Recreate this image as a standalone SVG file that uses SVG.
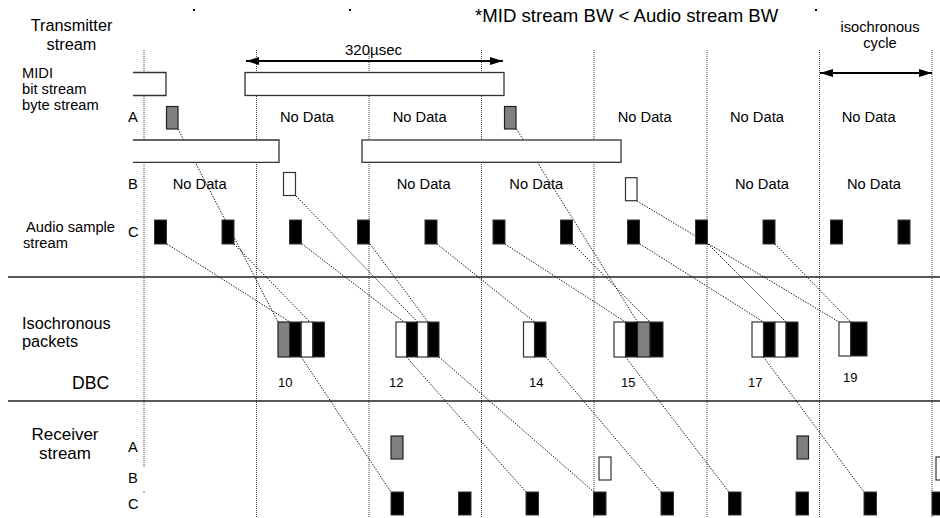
<svg xmlns="http://www.w3.org/2000/svg" width="940" height="518" viewBox="0 0 940 518">
<defs>
<style>
text{font-family:"Liberation Sans",Arial,sans-serif;fill:#000}
.t{font-size:14.7px}
.big{font-size:16.3px}
.grid{stroke:#444;stroke-width:1;stroke-dasharray:1,1;fill:none}
.con{stroke:#111;stroke-width:1;stroke-dasharray:1.4,1.4;fill:none}
.frame{fill:#fff;stroke:#333;stroke-width:1.3}
.g{fill:#808080;stroke:#222;stroke-width:1.2}
.w{fill:#fff;stroke:#333;stroke-width:1.2}
.k{fill:#000;stroke:#333;stroke-width:1}
.sep{stroke:#222;stroke-width:1.3}
.arr{stroke:#000;stroke-width:1.8;fill:none}
</style>
<marker id="ah" viewBox="0 0 13 8" refX="13" refY="4" markerWidth="13" markerHeight="8" markerUnits="userSpaceOnUse" orient="auto-start-reverse">
<path d="M0,0 L13,4 L0,8 z" fill="#000"/>
</marker>
</defs>
<rect width="940" height="518" fill="#fff"/>

<g id="grid">
<line class="grid" x1="144" y1="50" x2="144" y2="467"/>
<rect x="143.5" y="491" width="1" height="1.5" fill="#444"/>
<line class="grid" x1="256.5" y1="50" x2="256.5" y2="518"/>
<line class="grid" x1="369" y1="50" x2="369" y2="518"/>
<line class="grid" x1="481.5" y1="50" x2="481.5" y2="518"/>
<line class="grid" x1="594" y1="50" x2="594" y2="518"/>
<line class="grid" x1="707" y1="50" x2="707" y2="518"/>
<line class="grid" x1="819.5" y1="50" x2="819.5" y2="518"/>
<line class="grid" x1="932" y1="50" x2="932" y2="518"/>
<rect x="193" y="9" width="2" height="2" fill="#000"/>
<rect x="349" y="9" width="2" height="2" fill="#000"/>
<rect x="815" y="9" width="2" height="2" fill="#000"/>
</g>

<g id="separators">
<line class="sep" x1="8" y1="277" x2="940" y2="277"/>
<line class="sep" x1="8" y1="401" x2="940" y2="401"/>
</g>

<g id="labels">
<text class="big" x="71.5" y="31" text-anchor="middle">Transmitter</text>
<text class="big" x="71.5" y="50" text-anchor="middle">stream</text>
<text class="t" x="22" y="78">MIDI</text>
<text class="t" x="22" y="94">bit stream</text>
<text class="t" x="22" y="110">byte stream</text>
<text class="t" x="128" y="122">A</text>
<text class="t" x="128" y="189">B</text>
<text class="t" x="128" y="237">C</text>
<text class="t" x="26" y="232">Audio sample</text>
<text class="t" x="23" y="248">stream</text>
<text x="22" y="329" style="font-size:16.3px">Isochronous</text>
<text x="22" y="346.5" style="font-size:16.3px">packets</text>
<text x="72" y="389" style="font-size:17.6px">DBC</text>
<text x="65" y="440" text-anchor="middle" style="font-size:17px">Receiver</text>
<text x="65" y="458.5" text-anchor="middle" style="font-size:17px">stream</text>
<text class="t" x="128" y="452">A</text>
<text class="t" x="128" y="483">B</text>
<text class="t" x="128" y="509">C</text>
<text x="475" y="22" style="font-size:18.6px">*MID stream BW &lt; Audio stream BW</text>
<text class="t" x="880" y="32" text-anchor="middle">isochronous</text>
<text class="t" x="880" y="48" text-anchor="middle">cycle</text>
<text x="345" y="55" style="font-size:15px">320µsec</text>
</g>

<g id="nodata">
<text class="t" x="280" y="122">No Data</text>
<text class="t" x="392.7" y="122">No Data</text>
<text class="t" x="617.7" y="122">No Data</text>
<text class="t" x="730" y="122">No Data</text>
<text class="t" x="841.7" y="122">No Data</text>
<text class="t" x="172.7" y="189">No Data</text>
<text class="t" x="396.7" y="189">No Data</text>
<text class="t" x="509.3" y="189">No Data</text>
<text class="t" x="735" y="189">No Data</text>
<text class="t" x="847" y="189">No Data</text>
</g>

<g id="dimensions">
<line class="arr" x1="246" y1="61" x2="503" y2="61" marker-start="url(#ah)" marker-end="url(#ah)"/>
<line class="arr" x1="820" y1="73" x2="932" y2="73" marker-start="url(#ah)" marker-end="url(#ah)"/>
</g>

<g id="connectors">
<line class="con" x1="178" y1="129" x2="278" y2="322"/>
<line class="con" x1="167" y1="244" x2="290" y2="322"/>
<line class="con" x1="234" y1="244" x2="310" y2="322"/>
<line class="con" x1="296" y1="196" x2="417.5" y2="322"/>
<line class="con" x1="302" y1="244" x2="404" y2="322"/>
<line class="con" x1="370" y1="244" x2="428" y2="322"/>
<line class="con" x1="437" y1="244" x2="534.5" y2="322"/>
<line class="con" x1="505" y1="244" x2="625.5" y2="322"/>
<line class="con" x1="516.5" y1="129" x2="637.5" y2="322"/>
<line class="con" x1="573" y1="244" x2="650" y2="322"/>
<line class="con" x1="640" y1="244" x2="763.5" y2="322"/>
<line class="con" x1="637" y1="201" x2="839" y2="322"/>
<line class="con" x1="708" y1="244" x2="786" y2="322"/>
<line class="con" x1="775" y1="244" x2="850.7" y2="322"/>
<line class="con" x1="301.2" y1="357" x2="391" y2="492"/>
<line class="con" x1="406.5" y1="357" x2="526" y2="492"/>
<line class="con" x1="439" y1="357" x2="594" y2="492"/>
<line class="con" x1="546" y1="357" x2="661" y2="492"/>
<line class="con" x1="625.5" y1="357" x2="729" y2="492"/>
<line class="con" x1="763.5" y1="357" x2="864" y2="492"/>
</g>

<g id="midi-bit-stream">
<path class="frame" d="M133,72.5 H166 V95.5 H133"/>
<rect class="frame" x="245" y="72.5" width="259" height="23"/>
<path class="frame" d="M133,140 H279 V162.3 H133"/>
<rect class="frame" x="362" y="140" width="259" height="22.3"/>
</g>

<g id="tx-A">
<rect class="g" x="166.5" y="106.5" width="11.5" height="22.5"/>
<rect class="g" x="504.5" y="106.5" width="11.5" height="22.5"/>
</g>
<g id="tx-B">
<rect class="w" x="283.5" y="172.5" width="12" height="23"/>
<rect class="w" x="625.5" y="177.7" width="11.5" height="23"/>
</g>
<g id="tx-C">
<rect class="k" x="154.5" y="220" width="12" height="24"/>
<rect class="k" x="222" y="220" width="12" height="24"/>
<rect class="k" x="289.5" y="220" width="12" height="24"/>
<rect class="k" x="357.5" y="220" width="12" height="24"/>
<rect class="k" x="425" y="220" width="12" height="24"/>
<rect class="k" x="493" y="220" width="12" height="24"/>
<rect class="k" x="560.5" y="220" width="12" height="24"/>
<rect class="k" x="627.5" y="220" width="12" height="24"/>
<rect class="k" x="695.5" y="220" width="12" height="24"/>
<rect class="k" x="763" y="220" width="12" height="24"/>
<rect class="k" x="830.5" y="220" width="12" height="24"/>
<rect class="k" x="898" y="220" width="12" height="24"/>
</g>

<g id="packet-10">
<rect class="g" x="278" y="322" width="11.6" height="35"/>
<rect class="k" x="289.6" y="322" width="11.6" height="35"/>
<rect class="w" x="301.2" y="322" width="11.6" height="35"/>
<rect class="k" x="312.8" y="322" width="11.6" height="35"/>
<text x="278" y="387" style="font-size:13px">10</text>
</g>
<g id="packet-12">
<rect class="w" x="396" y="322" width="10.5" height="35"/>
<rect class="k" x="406.5" y="322" width="11" height="35"/>
<rect class="w" x="417.5" y="322" width="10.5" height="35"/>
<rect class="k" x="428" y="322" width="11" height="35"/>
<text x="389" y="387" style="font-size:13px">12</text>
</g>
<g id="packet-14">
<rect class="w" x="523.5" y="322" width="11" height="35"/>
<rect class="k" x="534.5" y="322" width="11.5" height="35"/>
<text x="529" y="387" style="font-size:13px">14</text>
</g>
<g id="packet-15">
<rect class="w" x="614" y="322" width="11.5" height="35"/>
<rect class="k" x="625.5" y="322" width="12" height="35"/>
<rect class="g" x="637.5" y="322" width="12.5" height="35"/>
<rect class="k" x="650" y="322" width="13" height="35"/>
<text x="621" y="387" style="font-size:13px">15</text>
</g>
<g id="packet-17">
<rect class="w" x="752" y="322" width="11.5" height="35"/>
<rect class="k" x="763.5" y="322" width="11.5" height="35"/>
<rect class="w" x="775" y="322" width="11" height="35"/>
<rect class="k" x="786" y="322" width="12" height="35"/>
<text x="748" y="387" style="font-size:13px">17</text>
</g>
<g id="packet-19">
<rect class="w" x="839" y="322" width="11.7" height="34"/>
<rect class="k" x="850.7" y="322" width="16.3" height="34"/>
<text x="843" y="382" style="font-size:13px">19</text>
</g>

<g id="rx-A">
<rect class="g" x="391" y="436" width="12" height="23"/>
<rect class="g" x="797" y="436" width="11.5" height="23"/>
</g>
<g id="rx-B">
<rect class="w" x="599" y="457" width="12" height="23"/>
<rect class="w" x="936" y="457" width="12" height="23"/>
</g>
<g id="rx-C">
<rect class="k" x="391" y="492" width="12.5" height="23"/>
<rect class="k" x="458.5" y="492" width="12.5" height="23"/>
<rect class="k" x="526" y="492" width="12.5" height="23"/>
<rect class="k" x="593.5" y="492" width="12.5" height="23"/>
<rect class="k" x="661" y="492" width="12.5" height="23"/>
<rect class="k" x="728.5" y="492" width="12.5" height="23"/>
<rect class="k" x="796" y="492" width="12.5" height="23"/>
<rect class="k" x="864" y="492" width="12.5" height="23"/>
<rect class="k" x="932" y="492" width="12.5" height="23"/>
</g>
</svg>
